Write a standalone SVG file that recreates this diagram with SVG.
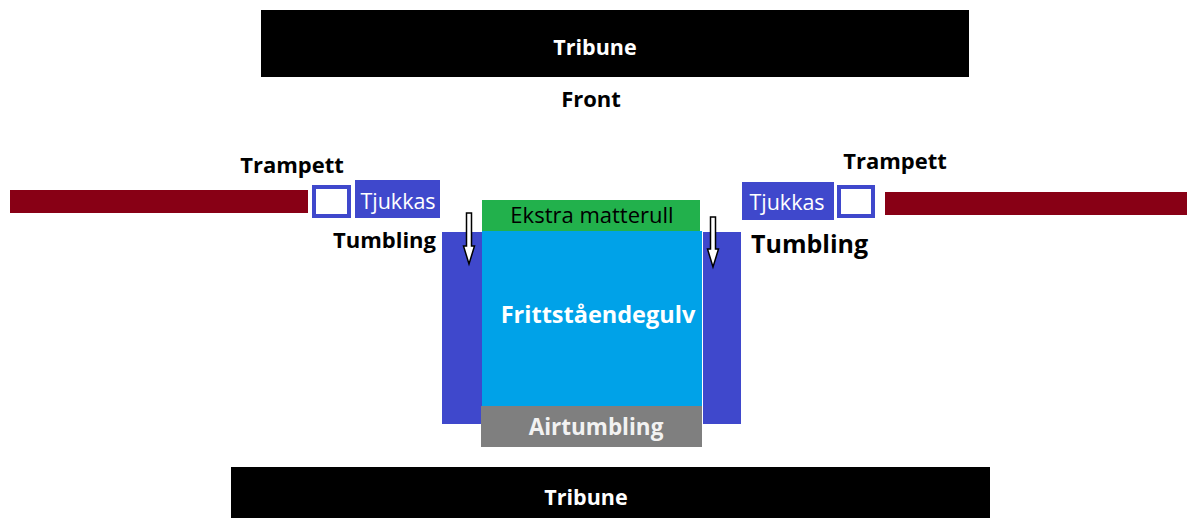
<svg xmlns="http://www.w3.org/2000/svg" width="1188" height="518" viewBox="0 0 1188 518">
<style>
.t{font-family:"Open Sans","Liberation Sans",sans-serif;}
.b{font-weight:bold;}
.w{fill:#ffffff;}
.k{fill:#000000;}
.mid{text-anchor:middle;}
.ind{fill:#3F48CC;}
.red{fill:#880015;}
.arrow{fill:#ffffff;stroke:#000000;stroke-width:1.5;stroke-linejoin:miter;}
</style>
<rect width="1188" height="518" fill="#ffffff"/>
<g id="tribune-top">
<rect x="261" y="10" width="708" height="67" fill="#000000"/>
<text class="t b w mid" x="595" y="55" font-size="21.5">Tribune</text>
</g>
<g id="front">
<text class="t b k mid" x="591" y="107" font-size="22">Front</text>
</g>
<g id="tribune-bottom">
<rect x="231" y="467" width="759" height="51" fill="#000000"/>
<text class="t b w mid" x="586" y="505" font-size="21.5">Tribune</text>
</g>
<g id="runway-left">
<rect class="red" x="10" y="190" width="298" height="23"/>
</g>
<g id="trampett-left">
<rect x="314" y="187" width="35" height="29" fill="#ffffff" stroke="#3F48CC" stroke-width="4"/>
<text class="t b k mid" x="292" y="173" font-size="22">Trampett</text>
</g>
<g id="tjukkas-left">
<rect class="ind" x="355" y="180" width="85" height="38"/>
<text class="t w mid" x="398" y="209" font-size="21.5">Tjukkas</text>
</g>
<g id="tumbling-left">
<rect class="ind" x="442" y="232" width="40" height="192"/>
<text class="t b k" x="436" y="248" font-size="22" text-anchor="end">Tumbling</text>
</g>
<g id="runway-right">
<rect class="red" x="885" y="192" width="302" height="23"/>
</g>
<g id="trampett-right">
<rect x="839" y="187" width="34" height="29" fill="#ffffff" stroke="#3F48CC" stroke-width="4"/>
<text class="t b k mid" x="895" y="169" font-size="22">Trampett</text>
</g>
<g id="tjukkas-right">
<rect class="ind" x="742" y="182" width="92" height="38"/>
<text class="t w mid" x="787" y="210" font-size="21.5">Tjukkas</text>
</g>
<g id="tumbling-right">
<rect class="ind" x="703" y="232" width="38" height="192"/>
<text class="t b k" x="751" y="253" font-size="25">Tumbling</text>
</g>
<g id="ekstra-matterull">
<rect x="482" y="200" width="218" height="31" fill="#22B14C"/>
<text class="t k mid" x="592" y="223" font-size="22">Ekstra matterull</text>
</g>
<g id="frittstaende">
<rect x="482" y="231" width="220" height="175" fill="#00A2E8"/>
<text class="t b w mid" x="598" y="323" font-size="23.5">Frittståendegulv</text>
</g>
<g id="airtumbling">
<rect x="481" y="406" width="221" height="41" fill="#7F7F7F"/>
<text class="t b mid" x="596" y="435" font-size="22.5" fill="#f2f2f2">Airtumbling</text>
</g>
<g id="connectors">
<path class="arrow" d="M466.5,213 L471.5,213 L471.5,246 L474.5,246 L469,264 L463.5,246 L466.5,246 Z"/>
<path class="arrow" d="M710.5,217 L715.5,217 L715.5,249 L718.5,249 L713,267 L707.5,249 L710.5,249 Z"/>
</g>
</svg>
